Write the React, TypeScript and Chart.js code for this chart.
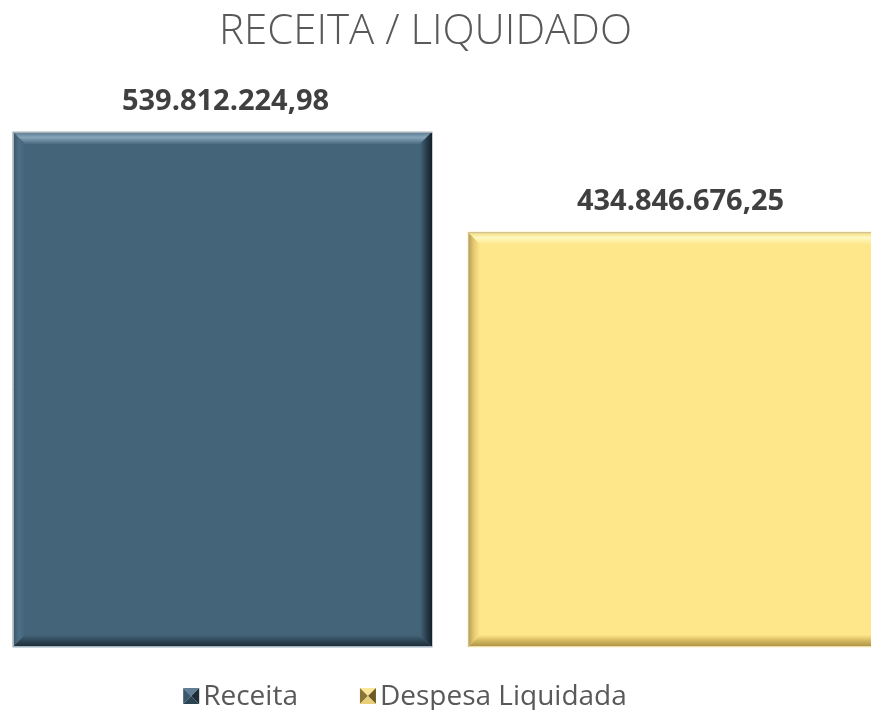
import React, { useEffect, useRef } from "react";
import { Chart, registerables } from "chart.js";

Chart.register(...registerables);

// ---- data ----
const categories = ["Receita", "Despesa Liquidada"];
const categoryPositions = [0, 1];
const receitaValues = [539812224.98];
const despesaValues = [434846676.25];
const chartTitle = "RECEITA / LIQUIDADO";
const seriesColors = ["#44647A", "#FEE68B"];

const W = 871;
const H = 710;
const PAD_RIGHT = 20;

const bevelPalettes = [
  {
    top: ["#5a7a90", "#86a5b8", "#4a6b81"],
    left: ["#3a5568", "#4d6f85"],
    right: ["#2b4050", "#13202a"],
    bottom: ["#2e4554", "#1b2a35"],
    edge: "#9fb4c3",
    outline: "#a9b3ba",
    marker: ["#5e7f95", "#3b576a", "#1d2d38", "#2c4352"],
  },
  {
    top: ["#f3d97a", "#fff8bf", "#fde88f"],
    left: ["#b49a50", "#e6ca72"],
    right: ["#c9ad55", "#8d7632"],
    bottom: ["#d2b65e", "#a98f45"],
    edge: "#e9dcaa",
    outline: "#c9bf98",
    marker: ["#fbe79a", "#8c7636", "#6e5a25", "#e8cf78"],
  },
];

function formatBR(v: number): string {
  const [i, d] = v.toFixed(2).split(".");
  return i.replace(/\B(?=(\d{3})+(?!\d))/g, ".") + "," + d;
}

function drawBevel(ctx: CanvasRenderingContext2D, l: number, t: number, r: number, b: number, bev: number, base: string, pal: any) {
  ctx.save();
  let g = ctx.createLinearGradient(0, t, 0, t + bev);
  g.addColorStop(0, pal.top[0]);
  g.addColorStop(0.45, pal.top[1]);
  g.addColorStop(1, pal.top[2]);
  ctx.fillStyle = g;
  ctx.beginPath();
  ctx.moveTo(l, t);
  ctx.lineTo(r, t);
  ctx.lineTo(r - bev, t + bev);
  ctx.lineTo(l + bev, t + bev);
  ctx.closePath();
  ctx.fill();

  g = ctx.createLinearGradient(l, 0, l + bev, 0);
  g.addColorStop(0, pal.left[0]);
  g.addColorStop(0.5, pal.left[1]);
  g.addColorStop(1, base);
  ctx.fillStyle = g;
  ctx.beginPath();
  ctx.moveTo(l, t);
  ctx.lineTo(l + bev, t + bev);
  ctx.lineTo(l + bev, b - bev);
  ctx.lineTo(l, b);
  ctx.closePath();
  ctx.fill();

  g = ctx.createLinearGradient(r - bev, 0, r, 0);
  g.addColorStop(0, base);
  g.addColorStop(0.5, pal.right[0]);
  g.addColorStop(1, pal.right[1]);
  ctx.fillStyle = g;
  ctx.beginPath();
  ctx.moveTo(r, t);
  ctx.lineTo(r, b);
  ctx.lineTo(r - bev, b - bev);
  ctx.lineTo(r - bev, t + bev);
  ctx.closePath();
  ctx.fill();

  g = ctx.createLinearGradient(0, b - bev, 0, b);
  g.addColorStop(0, base);
  g.addColorStop(0.5, pal.bottom[0]);
  g.addColorStop(1, pal.bottom[1]);
  ctx.fillStyle = g;
  ctx.beginPath();
  ctx.moveTo(l, b);
  ctx.lineTo(l + bev, b - bev);
  ctx.lineTo(r - bev, b - bev);
  ctx.lineTo(r, b);
  ctx.closePath();
  ctx.fill();

  ctx.fillStyle = pal.edge;
  ctx.fillRect(l, b - 1, r - l, 1);
  ctx.strokeStyle = pal.outline;
  ctx.lineWidth = 1;
  ctx.beginPath();
  ctx.moveTo(l + 0.5, b);
  ctx.lineTo(l + 0.5, t + 0.5);
  ctx.lineTo(r, t + 0.5);
  ctx.stroke();
  ctx.restore();
}

function drawMarker(ctx: CanvasRenderingContext2D, x: number, y: number, s: number, pal: any) {
  const c = [x + s / 2, y + s / 2];
  const tris = [
    [[x, y], [x + s, y]],
    [[x, y], [x, y + s]],
    [[x + s, y], [x + s, y + s]],
    [[x, y + s], [x + s, y + s]],
  ];
  tris.forEach((p, i) => {
    ctx.fillStyle = pal.marker[i];
    ctx.beginPath();
    ctx.moveTo(p[0][0], p[0][1]);
    ctx.lineTo(p[1][0], p[1][1]);
    ctx.lineTo(c[0], c[1]);
    ctx.closePath();
    ctx.fill();
  });
}

const bevelPlugin = {
  id: "bevelBars",
  afterDatasetsDraw(chart: any) {
    const ctx: CanvasRenderingContext2D = chart.ctx;
    chart.data.datasets.forEach((ds: any, di: number) => {
      const meta = chart.getDatasetMeta(di);
      meta.data.forEach((el: any) => {
        const { x, y, base, width } = el.getProps(["x", "y", "base", "width"], true);
        drawBevel(ctx, x - width / 2, y, x + width / 2, base, 12, seriesColors[di], bevelPalettes[di]);
      });
    });
  },
};

const valueLabelPlugin = {
  id: "valueLabels",
  afterDatasetsDraw(chart: any) {
    const ctx: CanvasRenderingContext2D = chart.ctx;
    ctx.save();
    ctx.font = "bold 29px 'Open Sans', sans-serif";
    ctx.fillStyle = "#404040";
    ctx.textAlign = "center";
    ctx.textBaseline = "alphabetic";
    chart.data.datasets.forEach((ds: any, di: number) => {
      const meta = chart.getDatasetMeta(di);
      meta.data.forEach((el: any, i: number) => {
        const { x, y } = el.getProps(["x", "y"], true);
        ctx.fillText(formatBR(ds.data[i].y), x + 3, y - 22);
      });
    });
    ctx.restore();
  },
};

const legendPlugin = {
  id: "bevelLegend",
  afterDraw(chart: any) {
    const ctx: CanvasRenderingContext2D = chart.ctx;
    ctx.save();
    ctx.font = "28px 'Open Sans', sans-serif";
    ctx.textBaseline = "alphabetic";
    ctx.textAlign = "left";
    const box = 16;
    const gapText = 4;
    const gapItems = 62;
    const items = chart.data.datasets.map((d: any) => d.label as string);
    const widths = items.map((t: string) => box + gapText + ctx.measureText(t).width);
    const total = widths.reduce((a: number, b: number) => a + b, 0) + gapItems * (items.length - 1);
    let x = 405 - total / 2;
    const yBox = chart.chartArea.bottom + 41;
    items.forEach((t: string, i: number) => {
      drawMarker(ctx, x, yBox, box, bevelPalettes[i]);
      ctx.fillStyle = "#595959";
      ctx.fillText(t, x + box + gapText, yBox + box + 1);
      x += widths[i] + gapItems;
    });
    ctx.restore();
  },
};

export default function App() {
  const ref = useRef<HTMLCanvasElement>(null);
  useEffect(() => {
    const canvas = ref.current!;
    const center0 = 222.5;
    const unitPx = 455;
    const areaW = W - PAD_RIGHT;
    const xMin = -center0 / unitPx;
    const xMax = (areaW - center0) / unitPx;
    const chart = new Chart(canvas, {
      type: "bar",
      data: {
        datasets: [
          {
            label: categories[0],
            data: receitaValues.map((v) => ({ x: categoryPositions[0], y: v })),
            backgroundColor: seriesColors[0],
            borderWidth: 0,
            grouped: false,
            barThickness: 419,
            clip: false,
          } as any,
          {
            label: categories[1],
            data: despesaValues.map((v) => ({ x: categoryPositions[1], y: v })),
            backgroundColor: seriesColors[1],
            borderWidth: 0,
            grouped: false,
            barThickness: 419,
            clip: false,
          } as any,
        ],
      },
      options: {
        animation: false,
        responsive: false,
        maintainAspectRatio: false,
        layout: { padding: { top: 0, left: 0, right: PAD_RIGHT, bottom: 63 } },
        scales: {
          x: { type: "linear", display: false, offset: false, min: xMin, max: xMax, grid: { display: false } },
          y: { display: false, min: 0, max: 600000000, grid: { display: false } },
        },
        plugins: {
          legend: { display: false },
          tooltip: { enabled: false },
          title: {
            display: true,
            text: chartTitle,
            color: "#595959",
            font: { family: "'Open Sans', sans-serif", size: 42, weight: "300" as any, lineHeight: 1.2 },
            padding: { top: 6.8, bottom: 17.4 },
          },
        },
      },
      plugins: [bevelPlugin, valueLabelPlugin, legendPlugin],
    });
    return () => chart.destroy();
  }, []);
  return (
    <div style={{ position: "fixed", left: 0, top: 0, width: W, height: H, overflow: "hidden", background: "#fff" }}>
      <canvas ref={ref} width={W} height={H} style={{ display: "block", width: W, height: H }} />
    </div>
  );
}
